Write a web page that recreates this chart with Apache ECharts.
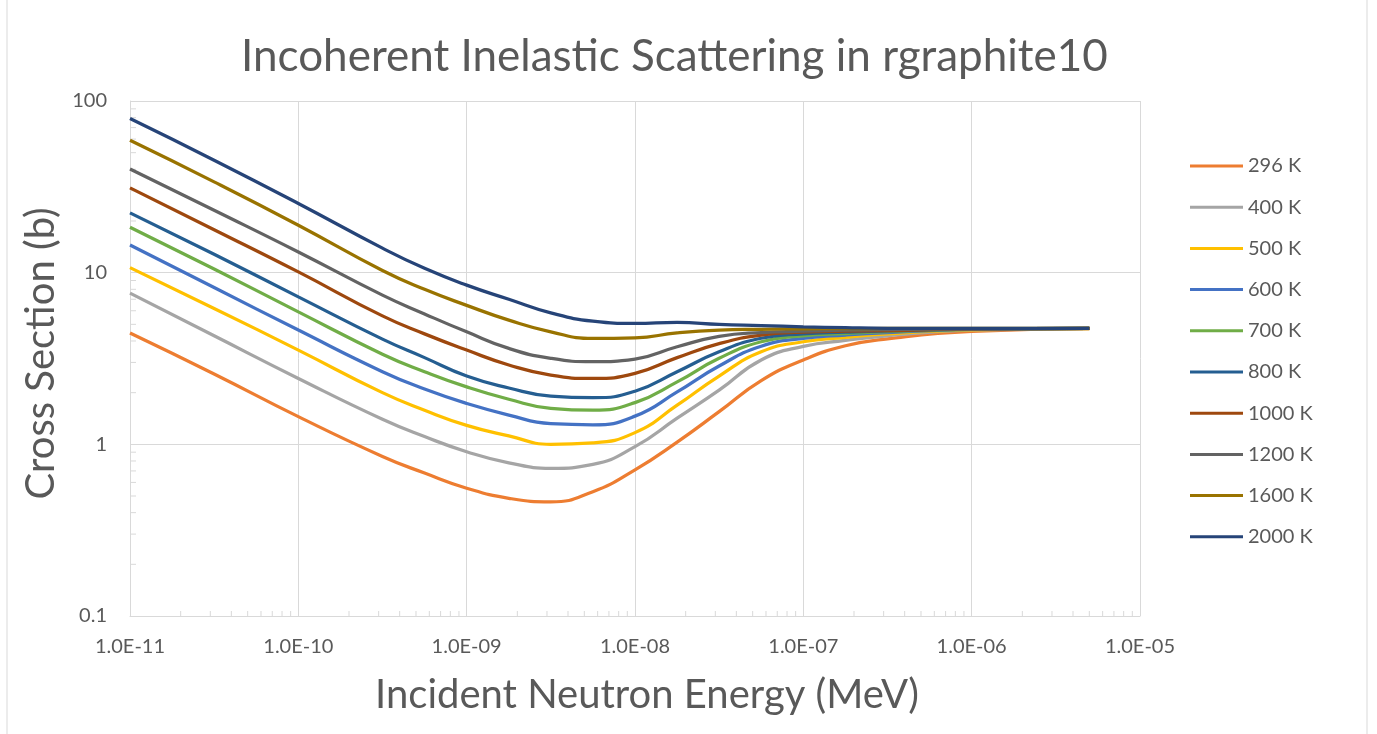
<!DOCTYPE html>
<html>
<head>
<meta charset="utf-8">
<script src="https://cdn.jsdelivr.net/npm/echarts@6/dist/echarts.min.js"></script>
<style>
html,body{margin:0;padding:0;background:#fff;}
#chart{width:1377px;height:734px;}
</style>
</head>
<body>
<div id="chart"></div>
<script>
// Incident neutron energy (MeV)
const energies = [1e-11, 3.16e-11, 1e-10, 3.16e-10, 5.62e-10, 1e-9, 1.78e-9, 3.16e-9, 5.62e-9, 1e-8, 1.78e-8, 3.16e-8, 5.62e-8, 1e-7, 1.78e-7, 3.16e-7, 1e-6, 5e-6];
const seriesNames = ['296 K', '400 K', '500 K', '600 K', '700 K', '800 K', '1000 K', '1200 K', '1600 K', '2000 K'];
const xs296  = [4.45, 2.57, 1.45, 0.85, 0.68, 0.555, 0.485, 0.462, 0.53, 0.71, 1.03, 1.55, 2.35, 3.1, 3.75, 4.12, 4.55, 4.72];
const xs400  = [7.6, 4.29, 2.42, 1.4, 1.11, 0.906, 0.78, 0.725, 0.765, 0.97, 1.42, 2.07, 3.1, 3.72, 4.03, 4.29, 4.62, 4.72];
const xs500  = [10.7, 6.19, 3.54, 2.0, 1.58, 1.29, 1.12, 1.0, 1.02, 1.17, 1.69, 2.5, 3.46, 3.96, 4.2, 4.4, 4.65, 4.72];
const xs600  = [14.5, 8.2, 4.63, 2.65, 2.1, 1.73, 1.48, 1.32, 1.30, 1.46, 2.02, 2.86, 3.73, 4.14, 4.33, 4.47, 4.67, 4.73];
const xs700  = [18.4, 10.5, 5.91, 3.35, 2.65, 2.16, 1.83, 1.62, 1.58, 1.75, 2.31, 3.17, 3.96, 4.29, 4.42, 4.53, 4.68, 4.73];
const xs800  = [22.3, 12.8, 7.23, 4.1, 3.2, 2.5, 2.13, 1.91, 1.87, 2.04, 2.65, 3.46, 4.15, 4.4, 4.5, 4.58, 4.69, 4.73];
const xs1000 = [31.2, 17.8, 10.1, 5.6, 4.4, 3.54, 2.9, 2.53, 2.42, 2.59, 3.2, 3.86, 4.33, 4.5, 4.56, 4.6, 4.7, 4.74];
const xs1200 = [40.2, 23.1, 13.2, 7.4, 5.75, 4.52, 3.62, 3.17, 3.03, 3.14, 3.7, 4.25, 4.48, 4.56, 4.62, 4.66, 4.71, 4.74];
const xs1600 = [59, 33.8, 18.9, 10.3, 8.0, 6.45, 5.29, 4.52, 4.14, 4.17, 4.46, 4.63, 4.68, 4.71, 4.72, 4.73, 4.73, 4.74];
const xs2000 = [79, 45.2, 25.3, 13.9, 10.6, 8.46, 7.0, 5.83, 5.22, 5.06, 5.13, 5.0, 4.92, 4.84, 4.78, 4.74, 4.73, 4.74];
const allValues = [xs296, xs400, xs500, xs600, xs700, xs800, xs1000, xs1200, xs1600, xs2000];
const colors = ['#ED7D31', '#A5A5A5', '#FFC000', '#4472C4', '#70AD47', '#255E91', '#9E480E', '#636363', '#997300', '#264478'];

// axis ranges and minor tick values
const xMin = 1e-11, xMax = 1e-5, yMin = 0.1, yMax = 100;
const xMinorTicks = [];
for (let e = -11; e < -5; e++) for (let m = 2; m <= 9; m++) xMinorTicks.push(m * Math.pow(10, e));
const yMinorTicks = [];
for (let e = -1; e < 2; e++) for (let m = 2; m <= 9; m++) yMinorTicks.push(+(m * Math.pow(10, e)).toPrecision(3));

const FONT = 'Lato, "Open Sans", sans-serif';
const TXT = '#595959';
const GRID = '#d9d9d9';

function fmtE(v) {
  const e = Math.round(Math.log10(v));
  const sign = e < 0 ? '-' : '+';
  const a = Math.abs(e);
  return '1.0E' + sign + (a < 10 ? '0' + a : '' + a);
}

const chart = echarts.init(document.getElementById('chart'), null, {renderer: 'canvas'});

const lineSeries = seriesNames.map((name, i) => ({
  name: name,
  type: 'line',
  data: energies.map((e, j) => [e, allValues[i][j]]),
  symbol: 'none',
  smooth: 0.5,
  lineStyle: {color: colors[i], width: 3.25},
  itemStyle: {color: colors[i]},
  z: 3
}));

const xTickSeries = {
  type: 'custom',
  name: 'xminor',
  silent: true,
  clip: false,
  z: 2,
  data: xMinorTicks.map(v => [v, yMin]),
  renderItem: function (params, api) {
    const p = api.coord([api.value(0), api.value(1)]);
    return {type: 'line', shape: {x1: p[0], y1: p[1], x2: p[0], y2: p[1] - 5}, style: {stroke: GRID, lineWidth: 1}};
  }
};
const yTickSeries = {
  type: 'custom',
  name: 'yminor',
  silent: true,
  clip: false,
  z: 2,
  data: yMinorTicks.map(v => [xMin, v]),
  renderItem: function (params, api) {
    const p = api.coord([api.value(0), api.value(1)]);
    return {type: 'line', shape: {x1: p[0], y1: p[1], x2: p[0] + 6, y2: p[1]}, style: {stroke: GRID, lineWidth: 1}};
  }
};

const option = {
  backgroundColor: '#ffffff',
  animation: false,
  title: {
    text: 'Incoherent Inelastic Scattering in rgraphite10',
    left: 236,
    top: 30,
    textStyle: {fontFamily: FONT, fontSize: 44, fontWeight: 'normal', color: TXT}
  },
  graphic: [{
    type: 'rect',
    shape: {x: 7, y: -2, width: 1360, height: 740},
    style: {fill: 'none', stroke: GRID, lineWidth: 1},
    silent: true
  }],
  legend: {
    data: seriesNames,
    orient: 'vertical',
    left: 1185,
    top: 151,
    itemWidth: 53,
    itemHeight: 3,
    itemGap: 21.2,
    icon: 'rect',
    textStyle: {fontFamily: FONT, fontSize: 20, color: TXT}
  },
  grid: {left: 130, right: 237, top: 101, bottom: 118, containLabel: false},
  xAxis: {
    type: 'log',
    logBase: 10,
    min: xMin,
    max: xMax,
    interval: 1,
    name: 'Incident Neutron Energy (MeV)',
    nameLocation: 'middle',
    nameGap: 59,
    nameTextStyle: {fontFamily: FONT, fontSize: 40, color: TXT, padding: [0, 0, 0, 24]},
    axisLine: {show: true, lineStyle: {color: GRID, width: 1}},
    axisTick: {show: false},
    axisLabel: {fontFamily: FONT, fontSize: 20, color: TXT, margin: 21, formatter: fmtE},
    splitLine: {show: true, lineStyle: {color: GRID, width: 1}}
  },
  yAxis: {
    type: 'log',
    logBase: 10,
    min: yMin,
    max: yMax,
    interval: 1,
    name: 'Cross Section (b)',
    nameLocation: 'middle',
    nameGap: 60,
    nameTextStyle: {fontFamily: FONT, fontSize: 40, color: TXT, padding: [0, 0, 0, 10]},
    axisLine: {show: true, lineStyle: {color: GRID, width: 1}},
    axisTick: {show: false},
    axisLabel: {fontFamily: FONT, fontSize: 20, color: TXT, margin: 23, formatter: function (v) { return String(+v.toPrecision(3)); }},
    splitLine: {show: true, lineStyle: {color: GRID, width: 1}}
  },
  series: [xTickSeries, yTickSeries].concat(lineSeries)
};
chart.setOption(option);
</script>
</body>
</html>
